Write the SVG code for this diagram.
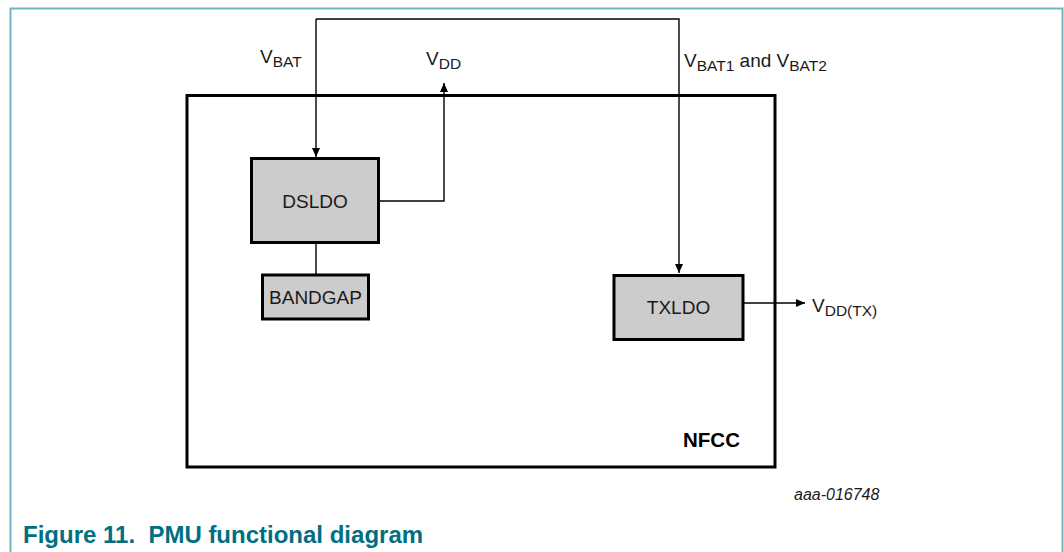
<svg xmlns="http://www.w3.org/2000/svg" width="1064" height="552" viewBox="0 0 1064 552">
<defs>
<marker id="arr" markerWidth="10" markerHeight="10" refX="9" refY="5" orient="auto" markerUnits="userSpaceOnUse">
<path d="M0,1 L9,5 L0,9 Z" fill="#000"/>
</marker>
<style>
.lbl{font-family:"Liberation Sans",Arial,sans-serif;font-size:19px;fill:#1a1a1a}
.sub{font-size:15.5px}
.blk{fill:#cccccc;stroke:#000;stroke-width:3}
.wire{fill:none;stroke:#000;stroke-width:1.4}
</style>
</defs>
<rect width="1064" height="552" fill="#fff"/>
<path d="M10.5,552 V8.5 H1062.5 V552" fill="none" stroke="#6fb6c2" stroke-width="2"/>
<g id="nfcc">
<rect x="187" y="95.5" width="588" height="371.5" fill="none" stroke="#000" stroke-width="3"/>
<text x="683" y="447" font-family="Liberation Sans,Arial,sans-serif" font-size="20.5" font-weight="bold" fill="#000">NFCC</text>
</g>
<g id="connectors">
<path class="wire" d="M316,19 H679 V273" marker-end="url(#arr)"/>
<path class="wire" d="M316,19 V157" marker-end="url(#arr)"/>
<path class="wire" d="M379,201 H444 V83" marker-end="url(#arr)"/>
<path class="wire" d="M316,243 V274"/>
<path class="wire" d="M743,303 H805" marker-end="url(#arr)"/>
</g>
<g id="dsldo">
<rect class="blk" x="251.5" y="158.5" width="127" height="84"/>
<text class="lbl" x="315" y="208" text-anchor="middle">DSLDO</text>
</g>
<g id="bandgap">
<rect class="blk" x="262.5" y="275" width="106" height="44"/>
<text class="lbl" x="315.5" y="304" text-anchor="middle">BANDGAP</text>
</g>
<g id="txldo">
<rect class="blk" x="614" y="275.5" width="129" height="64"/>
<text class="lbl" x="678.5" y="314" text-anchor="middle">TXLDO</text>
</g>
<g id="labels">
<text class="lbl" x="260" y="63">V<tspan class="sub" dy="4">BAT</tspan></text>
<text class="lbl" x="426" y="65">V<tspan class="sub" dy="4">DD</tspan></text>
<text class="lbl" x="684" y="67">V<tspan class="sub" dy="4">BAT1</tspan><tspan dy="-4"> and V</tspan><tspan class="sub" dy="4">BAT2</tspan></text>
<text class="lbl" x="812" y="312">V<tspan class="sub" dy="4">DD(TX)</tspan></text>
<text x="794" y="500" font-family="Liberation Sans,Arial,sans-serif" font-size="16" font-style="italic" fill="#1a1a1a">aaa-016748</text>
<text x="23" y="543" font-family="Liberation Sans,Arial,sans-serif" font-size="24" font-weight="bold" fill="#006f82">Figure 11.&#160; PMU functional diagram</text>
</g>
</svg>
